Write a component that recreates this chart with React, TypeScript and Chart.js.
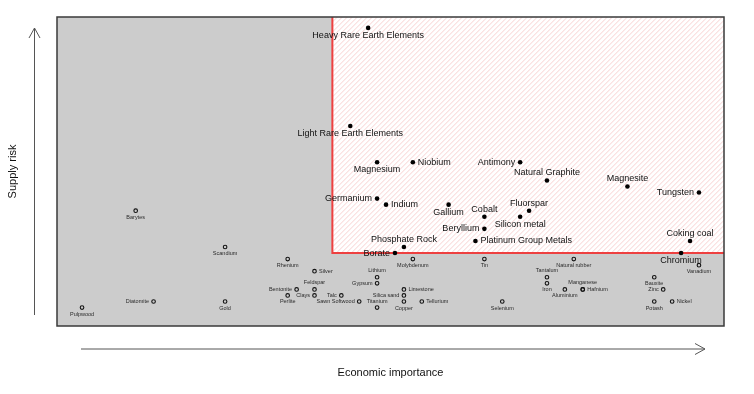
import React, { useEffect, useRef } from "react";
import { Chart, registerables } from "chart.js";

Chart.register(...registerables);

// ---- Data ----
const importanceThreshold = 5;
const riskThreshold = 1;

const criticalNames = [
  "Heavy Rare Earth Elements", "Light Rare Earth Elements", "Magnesium", "Niobium", "Antimony",
  "Natural Graphite", "Magnesite", "Tungsten", "Germanium", "Indium", "Gallium", "Fluorspar",
  "Cobalt", "Silicon metal", "Beryllium", "Platinum Group Metals", "Coking coal", "Phosphate Rock",
  "Borate", "Chromium",
];
const criticalImportance = [
  5.4, 5.2, 5.5, 5.9, 7.1,
  7.4, 8.3, 9.1, 5.5, 5.6, 6.3, 7.2,
  6.7, 7.1, 6.7, 6.6, 9.0, 5.8,
  5.7, 8.9,
];
const criticalRisk = [
  4.72, 3.1, 2.5, 2.5, 2.5,
  2.2, 2.1, 2.0, 1.9, 1.8, 1.8, 1.7,
  1.6, 1.6, 1.4, 1.2, 1.2, 1.1,
  1.0, 1.0,
];

const otherNames = [
  "Pulpwood", "Diatomite", "Barytes", "Gold", "Scandium", "Rhenium", "Bentonite", "Perlite",
  "Silver", "Feldspar", "Clays", "Talc", "Sawn Softwood", "Lithium", "Gypsum", "Titanium",
  "Limestone", "Silica sand", "Copper", "Tellurium", "Molybdenum", "Tin", "Selenium",
  "Tantalum", "Iron", "Aluminium", "Manganese", "Hafnium", "Natural rubber", "Bauxite",
  "Zinc", "Potash", "Nickel", "Vanadium",
];
const otherImportance = [
  2.2, 3.0, 2.8, 3.8, 3.8, 4.5, 4.6, 4.5,
  4.8, 4.8, 4.8, 5.1, 5.3, 5.5, 5.5, 5.5,
  5.8, 5.8, 5.8, 6.0, 5.9, 6.7, 6.9,
  7.4, 7.4, 7.6, 7.8, 7.8, 7.7, 8.6,
  8.7, 8.6, 8.8, 9.1,
];
const otherRisk = [
  0.1, 0.2, 1.7, 0.2, 1.1, 0.9, 0.4, 0.3,
  0.7, 0.4, 0.3, 0.3, 0.2, 0.6, 0.5, 0.1,
  0.4, 0.3, 0.2, 0.2, 0.9, 0.9, 0.2,
  0.6, 0.5, 0.4, 0.4, 0.4, 0.9, 0.6,
  0.4, 0.2, 0.2, 0.8,
];

// ---- Label placement (style) ----
const labelPlacement: Record<string, string> = {
  "Heavy Rare Earth Elements": "bottom", "Light Rare Earth Elements": "bottom", Magnesium: "bottom",
  Niobium: "right", Antimony: "left", "Natural Graphite": "top", Magnesite: "top", Tungsten: "left",
  Germanium: "left", Indium: "right", Gallium: "bottom", Fluorspar: "top", Cobalt: "top",
  "Silicon metal": "bottom", Beryllium: "left", "Platinum Group Metals": "right", "Coking coal": "top",
  "Phosphate Rock": "top", Borate: "left", Chromium: "bottom",
  Pulpwood: "bottom", Diatomite: "left", Barytes: "bottom", Gold: "bottom", Scandium: "bottom",
  Rhenium: "bottom", Bentonite: "left", Perlite: "bottom", Silver: "right", Feldspar: "top",
  Clays: "left", Talc: "left", "Sawn Softwood": "left", Lithium: "top", Gypsum: "left",
  Titanium: "top", Limestone: "right", "Silica sand": "left", Copper: "bottom", Tellurium: "right",
  Molybdenum: "bottom", Tin: "bottom", Selenium: "bottom", Tantalum: "top", Iron: "bottom",
  Aluminium: "bottom", Manganese: "top", Hafnium: "right", "Natural rubber": "bottom",
  Bauxite: "bottom", Zinc: "left", Potash: "bottom", Nickel: "right", Vanadium: "bottom",
};

const FONT = '"Liberation Sans", Arial, Helvetica, sans-serif';

const backgroundPlugin = {
  id: "quadrantBackground",
  beforeDatasetsDraw(chart: any) {
    const { ctx, chartArea: a, scales } = chart;
    const tx = scales.x.getPixelForValue(importanceThreshold);
    const ty = scales.y.getPixelForValue(riskThreshold);
    ctx.save();
    ctx.fillStyle = "#cccccc";
    ctx.fillRect(a.left, a.top, a.right - a.left, a.bottom - a.top);
    // critical region
    ctx.fillStyle = "#ffffff";
    ctx.fillRect(tx, a.top, a.right - tx, ty - a.top);
    ctx.save();
    ctx.beginPath();
    ctx.rect(tx, a.top, a.right - tx, ty - a.top);
    ctx.clip();
    ctx.strokeStyle = "rgba(238, 150, 150, 0.55)";
    ctx.lineWidth = 0.8;
    const h = ty - a.top;
    for (let x0 = tx - h; x0 < a.right + 5; x0 += 5) {
      ctx.beginPath();
      ctx.moveTo(x0, ty);
      ctx.lineTo(x0 + h, a.top);
      ctx.stroke();
    }
    ctx.restore();
    ctx.strokeStyle = "#ee4040";
    ctx.lineWidth = 2;
    ctx.beginPath();
    ctx.moveTo(tx, a.top);
    ctx.lineTo(tx, ty);
    ctx.lineTo(a.right, ty);
    ctx.stroke();
    // frame
    ctx.strokeStyle = "#3a3a3a";
    ctx.lineWidth = 1.5;
    ctx.strokeRect(a.left, a.top, a.right - a.left, a.bottom - a.top);
    ctx.restore();
  },
};

const labelPlugin = {
  id: "pointLabels",
  afterDatasetsDraw(chart: any) {
    const ctx = chart.ctx;
    const nameLists = [criticalNames, otherNames];
    chart.data.datasets.forEach((_ds: any, di: number) => {
      const meta = chart.getDatasetMeta(di);
      const big = di === 0;
      const size = big ? 9 : 5.5;
      const vOff = big ? 7.5 : 6.5;
      const hOff = big ? 5 : 4.5;
      ctx.save();
      ctx.font = `${size}px ${FONT}`;
      ctx.fillStyle = big ? "#111111" : "#2a2a2a";
      meta.data.forEach((el: any, i: number) => {
        const name = nameLists[di][i];
        const pos = labelPlacement[name] || "bottom";
        let x = el.x;
        let y = el.y;
        ctx.textBaseline = "middle";
        if (pos === "bottom") { ctx.textAlign = "center"; y += vOff; }
        else if (pos === "top") { ctx.textAlign = "center"; y -= vOff; }
        else if (pos === "left") { ctx.textAlign = "right"; x -= hOff; }
        else { ctx.textAlign = "left"; x += hOff; }
        ctx.fillText(name, x, y);
      });
      ctx.restore();
    });
  },
};

const axesPlugin = {
  id: "arrowAxes",
  afterDraw(chart: any) {
    const { ctx, chartArea: a } = chart;
    ctx.save();
    ctx.strokeStyle = "#555555";
    ctx.lineWidth = 1;
    // horizontal arrow
    const hy = a.bottom + 23;
    const hx0 = a.left + 24;
    const hx1 = a.right - 19;
    ctx.beginPath();
    ctx.moveTo(hx0, hy);
    ctx.lineTo(hx1, hy);
    ctx.moveTo(hx1 - 10, hy - 5.5);
    ctx.lineTo(hx1, hy);
    ctx.lineTo(hx1 - 10, hy + 5.5);
    ctx.stroke();
    // vertical arrow
    const vx = a.left - 22.5;
    const vy0 = a.bottom - 11;
    const vy1 = a.top + 11;
    ctx.beginPath();
    ctx.moveTo(vx, vy0);
    ctx.lineTo(vx, vy1);
    ctx.moveTo(vx - 5.5, vy1 + 10);
    ctx.lineTo(vx, vy1);
    ctx.lineTo(vx + 5.5, vy1 + 10);
    ctx.stroke();
    // titles
    ctx.fillStyle = "#111111";
    ctx.font = `11px ${FONT}`;
    ctx.textAlign = "center";
    ctx.textBaseline = "middle";
    ctx.fillText("Economic importance", (a.left + a.right) / 2, a.bottom + 47);
    ctx.save();
    ctx.translate(a.left - 44.5, (a.top + a.bottom) / 2);
    ctx.rotate(-Math.PI / 2);
    ctx.fillText("Supply risk", 0, 0);
    ctx.restore();
    ctx.restore();
  },
};

export default function App() {
  const canvasRef = useRef<HTMLCanvasElement | null>(null);

  useEffect(() => {
    if (!canvasRef.current) return;
    const chart = new Chart(canvasRef.current, {
      type: "scatter",
      data: {
        datasets: [
          {
            label: "Critical",
            data: criticalNames.map((_, i) => ({ x: criticalImportance[i], y: criticalRisk[i] })),
            pointRadius: 2.3,
            pointBackgroundColor: "#000000",
            pointBorderColor: "#000000",
            pointBorderWidth: 0,
          },
          {
            label: "Other",
            data: otherNames.map((_, i) => ({ x: otherImportance[i], y: otherRisk[i] })),
            pointRadius: 1.8,
            pointBackgroundColor: "rgba(0,0,0,0)",
            pointBorderColor: "#111111",
            pointBorderWidth: 1.1,
          },
        ],
      },
      options: {
        responsive: false,
        animation: false,
        layout: { padding: { left: 57, top: 17, right: 30, bottom: 68 } },
        scales: {
          x: { type: "linear", display: false, min: 1.92, max: 9.38 },
          y: { type: "linear", display: false, min: -0.205, max: 4.9 },
        },
        plugins: {
          legend: { display: false },
          tooltip: { enabled: false },
        },
      },
      plugins: [backgroundPlugin, labelPlugin, axesPlugin],
    });
    return () => chart.destroy();
  }, []);

  return (
    <div style={{ position: "fixed", left: 0, top: 0, width: 754, height: 394, background: "#ffffff" }}>
      <canvas ref={canvasRef} width={754} height={394} style={{ display: "block" }} />
    </div>
  );
}
